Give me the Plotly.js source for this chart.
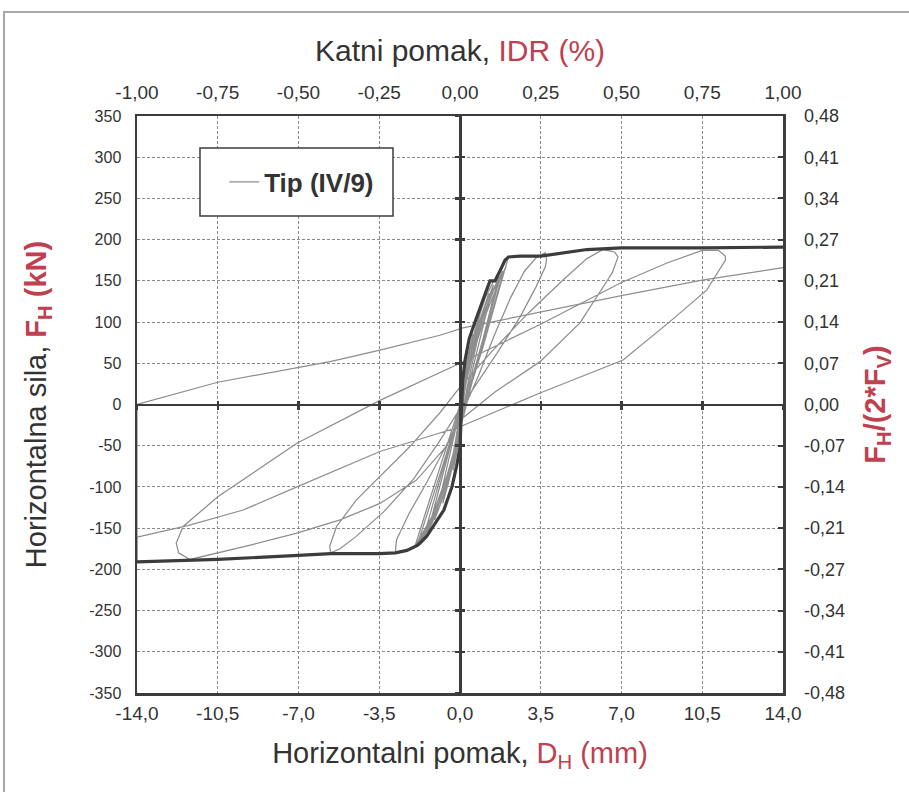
<!DOCTYPE html>
<html>
<head>
<meta charset="utf-8">
<script src="https://cdn.plot.ly/plotly-3.0.1.min.js"></script>
<style>html,body{margin:0;padding:0;background:#fff;}#chart{width:909px;height:792px;}</style>
</head>
<body>
<div id="chart"></div>
<script>
// ---- tick labels ----
const tickMm = [-14, -10.5, -7, -3.5, 0, 3.5, 7, 10.5, 14];
const tickMmText = ['-14,0', '-10,5', '-7,0', '-3,5', '0,0', '3,5', '7,0', '10,5', '14,0'];
const idrText = ['-1,00', '-0,75', '-0,50', '-0,25', '0,00', '0,25', '0,50', '0,75', '1,00'];
const tickKn = [-350, -300, -250, -200, -150, -100, -50, 0, 50, 100, 150, 200, 250, 300, 350];
const tickKnText = ['-350', '-300', '-250', '-200', '-150', '-100', '-50', '0', '50', '100', '150', '200', '250', '300', '350'];
const ratioText = ['-0,48', '-0,41', '-0,34', '-0,27', '-0,21', '-0,14', '-0,07', '0,00', '0,07', '0,14', '0,21', '0,27', '0,34', '0,41', '0,48'];

// ---- small cycles (D_H mm, F_H kN) ----
const c1X = [0.05, 0.15, 0.35, 0.55, 0.45, 0.25, 0.1, 0.02, -0.15, -0.3, -0.2, -0.05, 0.05];
const c1Y = [0, 30, 60, 85, 70, 35, 0, -30, -60, -80, -60, -25, 0];
const c2X = [0.05, 0.25, 0.5, 0.75, 0.95, 0.75, 0.45, 0.2, 0.05, -0.2, -0.5, -0.75, -0.5, -0.2, 0.05];
const c2Y = [0, 40, 75, 100, 120, 95, 55, 15, -20, -60, -95, -120, -90, -45, 0];
const c3X = [0.05, 0.3, 0.6, 0.95, 1.25, 1.0, 0.65, 0.3, 0.05, -0.3, -0.7, -1.1, -0.8, -0.4, 0.05];
const c3Y = [0, 45, 80, 110, 135, 110, 65, 20, -25, -70, -110, -140, -105, -55, 0];
const c4X = [0.05, 0.35, 0.75, 1.1, 1.45, 1.2, 0.8, 0.35, 0.05, -0.4, -0.9, -1.4, -1.05, -0.5, 0.05];
const c4Y = [0, 50, 90, 120, 145, 118, 70, 20, -25, -80, -125, -155, -118, -60, 0];
const c5X = [0.05, 0.45, 0.9, 1.3, 1.7, 1.45, 1.0, 0.45, 0.05, -0.45, -1.0, -1.6, -1.25, -0.6, 0.05];
const c5Y = [0, 55, 100, 130, 155, 130, 80, 25, -25, -80, -128, -163, -128, -65, 0];
const c6X = [0.05, 0.5, 1.0, 1.45, 1.85, 1.6, 1.1, 0.5, 0.05, -0.5, -1.1, -1.85, -1.45, -0.7, 0.05];
const c6Y = [0, 60, 105, 138, 162, 140, 88, 30, -25, -85, -133, -170, -135, -70, 0];
const c7X = [0.05, 0.55, 1.1, 1.6, 2.0, 1.7, 1.15, 0.55, 0.1, -0.55, -1.2, -1.95, -1.5, -0.75, 0];
const c7Y = [0, 60, 108, 143, 168, 143, 88, 30, -20, -85, -135, -172, -132, -65, 0];

// ---- larger cycles ----
const bigX = [0, 0.3, 0.7, 1.1, 1.45, 1.8, 2.1, 1.95, 1.5, 1.0, 0.5, 0.15, -0.3, -0.8, -1.3, -1.75, -2.2, -2.7,
  -2.8, -2.75, -2.2, -1.45, -0.6, 0.1, 0.8, 1.5, 2.2, 2.8, 3.3, 3.7,
  3.75, 3.7, 3.3, 2.6, 1.6, 0.6, 0, -0.9, -2.0, -3.3, -4.5, -5.2, -5.6,
  -5.65, -5.35, -4.5, -3.33, -2.17, -0.87, 0, 1.5, 3.0, 4.5, 5.5, 6.2, 6.7,
  6.85, 6.6, 6.4, 5.2, 3.47, 1.5, 0, -0.6, -1.9, -3.47, -5.2, -7.07, -9.0, -10.5, -11.7,
  -12.2, -12.3, -12.0, -10.5, -7.07, -3.47, 0, 3.47, 7.0, 9.0, 10.5, 11.2,
  11.5, 11.5, 10.7, 9.2, 7.07, 4.9, 3.47, 0, -3.47, -7.07, -9.4, -11.8, -14, -14];
const bigY = [0, 45, 95, 130, 150, 168, 179, 165, 120, 70, 25, -15, -60, -110, -145, -168, -176, -180,
  -178, -164, -132, -95, -50, -10, 35, 85, 130, 162, 178, 184,
  176, 167, 143, 106, 62, 21, -5, -45, -90, -130, -160, -175, -180,
  -172, -148, -116, -83, -51, -10, 21, 68, 112, 152, 177, 188, 185,
  179, 160, 151, 99, 52, 15, -19, -51, -92, -120, -140, -156, -170, -180, -188,
  -180, -168, -148, -112, -47, 5, 50, 97, 148, 172, 187, 187,
  180, 175, 139, 103, 54, 30, 14, -27, -57, -100, -128, -147, -161, -190];

// ---- last reloading branch ----
const lastX = [-14, -14, -10.5, -7.07, -5.63, -3.47, -0.87, 0.13, 3.47, 7.0, 10.5, 14];
const lastY = [-190, 0, 27, 44, 52, 66, 84, 93, 112, 132, 151, 166];

// ---- envelope (thick) ----
const envPosX = [0.07, 0.12, 0.22, 0.4, 0.65, 0.87, 1.1, 1.3, 1.52, 1.75, 1.95, 2.1, 2.6, 3.5, 4.5, 5.5, 7.0, 10.5, 14];
const envPosY = [0, 30, 54, 80, 100, 118, 135, 150, 150, 163, 175, 179, 180, 180, 184, 188, 190, 190, 191];
const envNegX = [0.07, 0.02, 0, -0.15, -0.35, -0.7, -1.08, -1.45, -1.73, -1.85, -2.3, -2.8, -3.5, -5.6, -7.0, -10.5, -14];
const envNegY = [0, -25, -52, -75, -100, -128, -144, -160, -168, -171, -177, -180, -181, -181, -183, -188, -191];

const thinX = [].concat(c1X, c2X, c3X, c4X, c5X, c6X, c7X, bigX);
const thinY = [].concat(c1Y, c2Y, c3Y, c4Y, c5Y, c6Y, c7Y, bigY);

const DARK = '#3c3c3c';
const THIN = '#8e8e8e';
const RED = '#C0404F';
const TXT = '#333333';
const FONT = '"Liberation Sans", Arial, sans-serif';

const traces = [
  {x: thinX, y: thinY, xaxis: 'x', yaxis: 'y', mode: 'lines', name: 'Tip (IV/9)',
   line: {color: THIN, width: 1.25}, hoverinfo: 'skip'},
  {x: lastX, y: lastY, xaxis: 'x2', yaxis: 'y2', mode: 'lines', showlegend: false,
   line: {color: THIN, width: 1.25}, hoverinfo: 'skip'},
  {x: envPosX, y: envPosY, xaxis: 'x3', yaxis: 'y3', mode: 'lines', showlegend: false,
   line: {color: DARK, width: 3.2}, hoverinfo: 'skip'},
  {x: envNegX, y: envNegY, xaxis: 'x4', yaxis: 'y4', mode: 'lines', showlegend: false,
   line: {color: DARK, width: 3.2}, hoverinfo: 'skip'}
];

const xr = [-14, 14], yr = [-350, 350];
const grid = {showgrid: true, gridcolor: '#8a8a8a', gridwidth: 1, griddash: '3px,2px'};
const hidden = {showgrid: false, zeroline: false, showticklabels: false, fixedrange: true};

const layout = {
  width: 909, height: 792,
  paper_bgcolor: '#ffffff', plot_bgcolor: '#ffffff',
  margin: {l: 137, r: 126, t: 116, b: 99},
  font: {family: FONT, color: TXT, size: 15},
  showlegend: true,
  legend: {x: 0.135, y: 0.8856, xanchor: 'left', yanchor: 'middle', bgcolor: 'rgba(0,0,0,0)', borderwidth: 0,
           font: {family: FONT, size: 26, color: TXT, weight: 'bold'}},
  xaxis: Object.assign({range: xr, tickvals: tickMm, ticktext: tickMmText, ticks: '', zeroline: false,
           showline: true, mirror: true, linecolor: DARK, linewidth: 2.5,
           tickfont: {family: FONT, size: 19, color: TXT}, ticklabelstandoff: 2,
           title: {text: 'Horizontalni pomak, <span style="color:' + RED + '">D<sub>H</sub> (mm)</span>',
                   font: {family: FONT, size: 29, color: TXT}, standoff: 20}}, grid),
  yaxis: Object.assign({range: yr, tickvals: tickKn, ticktext: tickKnText, ticks: '', zeroline: false,
           showline: true, mirror: true, linecolor: DARK, linewidth: 2.5,
           tickfont: {family: FONT, size: 16, color: TXT}, ticklabelstandoff: 10,
           title: {text: 'Horizontalna sila, <span style="color:' + RED + '"><b>F<sub>H</sub> (kN)</b></span>',
                   font: {family: FONT, size: 29, color: TXT}, standoff: 34}}, grid),
  xaxis2: {overlaying: 'x', side: 'top', anchor: 'y', range: xr, tickvals: tickMm, ticktext: idrText,
           showgrid: false, zeroline: false, showline: false, ticks: '', fixedrange: true,
           tickfont: {family: FONT, size: 19, color: TXT}, ticklabelstandoff: 12,
           title: {text: 'Katni pomak, <span style="color:' + RED + '">IDR (%)</span>',
                   font: {family: FONT, size: 30, color: TXT}, standoff: 11}},
  yaxis2: {overlaying: 'y', side: 'right', anchor: 'x', range: yr, tickvals: tickKn, ticktext: ratioText,
           showgrid: false, zeroline: false, showline: false, ticks: 'inside', ticklen: 5, tickwidth: 2,
           tickcolor: DARK, fixedrange: true,
           tickfont: {family: FONT, size: 18, color: TXT}, ticklabelstandoff: 20,
           title: {text: '<b>F<sub>H</sub>/(2*F<sub>V</sub>)</b>', font: {family: FONT, size: 29, color: RED}, standoff: 20}},
  xaxis3: Object.assign({overlaying: 'x', anchor: 'free', position: 0.5, range: xr, tickvals: tickMm,
           ticks: 'outside', ticklen: 4, tickwidth: 2.5, tickcolor: DARK, showline: true, linecolor: DARK, linewidth: 2.5}, hidden),
  yaxis3: Object.assign({overlaying: 'y', anchor: 'free', position: 0.5, range: yr, tickvals: tickKn,
           ticks: 'outside', ticklen: 4, tickwidth: 2.5, tickcolor: DARK, showline: true, linecolor: DARK, linewidth: 2.5}, hidden),
  xaxis4: Object.assign({overlaying: 'x', anchor: 'free', position: 0.5, range: xr, tickvals: tickMm,
           ticks: 'inside', ticklen: 4, tickwidth: 2.5, tickcolor: DARK, showline: false}, hidden),
  yaxis4: Object.assign({overlaying: 'y', anchor: 'free', position: 0.5, range: yr, tickvals: tickKn,
           ticks: 'inside', ticklen: 4, tickwidth: 2.5, tickcolor: DARK, showline: false}, hidden),
  shapes: [
    {type: 'rect', xref: 'paper', yref: 'paper', x0: -0.2059, x1: 1.25, y0: -0.25, y1: 1.1802,
     line: {color: '#a8a8a8', width: 2}, fillcolor: 'rgba(0,0,0,0)', layer: 'below'},
    {type: 'rect', xref: 'paper', yref: 'paper', x0: 0.0975, x1: 0.3963, y0: 0.8267, y1: 0.9445,
     line: {color: DARK, width: 1.5}, fillcolor: '#ffffff', layer: 'above'}
  ]
};

Plotly.newPlot('chart', traces, layout, {staticPlot: true, displayModeBar: false});
</script>
</body>
</html>
